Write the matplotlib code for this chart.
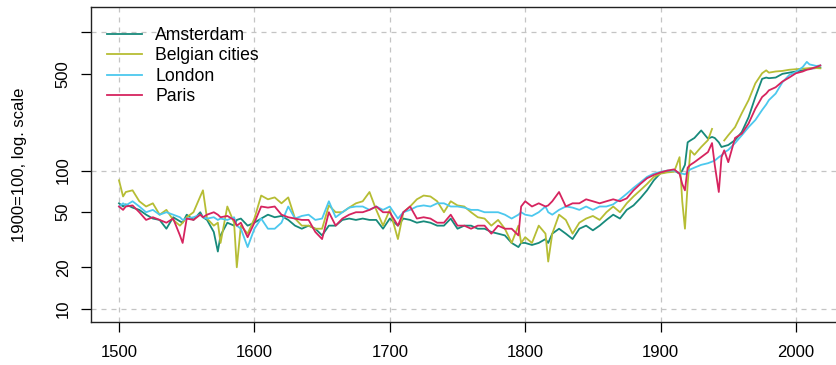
import numpy as np
import matplotlib
matplotlib.use("Agg")
import matplotlib.pyplot as plt

plt.rcParams['font.family'] = ['Liberation Sans', 'DejaVu Sans']

nan = np.nan

# years shared by all four series
years = [
    1500, 1503, 1505, 1510, 1515, 1520, 1525, 1530, 1535, 1540, 1545, 1547, 1550,
    1555, 1560, 1562, 1565, 1570, 1573, 1575, 1580, 1585, 1587, 1590, 1595,
    1600, 1605, 1610, 1615, 1620, 1625, 1630, 1635, 1640, 1645, 1650, 1655, 1660,
    1665, 1670, 1675, 1680, 1685, 1690, 1695,
    1700, 1706, 1710, 1715, 1720, 1725, 1730, 1735, 1740, 1745, 1750, 1755, 1760,
    1765, 1770, 1775, 1780, 1785, 1790, 1795, 1797,
    1800, 1805, 1810, 1815, 1817, 1820, 1825, 1830, 1835, 1840, 1845, 1850, 1855,
    1860, 1865, 1870, 1875, 1880, 1885, 1890, 1895,
    1900, 1905, 1910, 1914, 1916, 1918, 1920, 1922, 1925, 1930, 1935, 1938, 1940,
    1943, 1945, 1947, 1950, 1955, 1960, 1965, 1970, 1975, 1978, 1980, 1985, 1990,
    1995, 2000, 2005, 2008, 2010, 2015, 2018,
]

amsterdam = [
    58, 55, 57, 54, 52, 48, 45, 44, 38, 46, 43, 42, 48, 44, 50, 46, 44, 36, 26, 34, 42, 40, 44, 45, 40,
    42, 45, 48, 46, 47, 44, 40, 38, 40, 38, 34, 40, 40, 44, 45, 44, 45, 44, 44, 38,
    45, 40, 45, 44, 42, 43, 42, 40, 40, 45, 38, 40, 40, 38, 38, 36, 35, 34, 30, 28, 30,
    30, 29, 30, 32, 30, 35, 38, 35, 32, 38, 40, 37, 40, 44, 48, 45, 52, 56, 63, 72, 85,
    96, 98, 100, 95, 100, 110, 160, 165, 172, 195, 170, 175, 172, 160, 148, 150, 153,
    166, 190, 243, 340, 460, 470, 465, 470, 500, 510, 520, 530, 540, 545, 550, 555,
]

belgian = [
    85, 65, 70, 72, 60, 55, 58, 48, 52, 44, 40, 42, 46, 50, 65, 72, 45, 40, 42, 30, 55, 42, 20, 40, 35,
    45, 66, 62, 64, 58, 64, 45, 40, 40, 38, 38, 56, 50, 50, 54, 58, 60, 70, 52, 40,
    52, 32, 50, 55, 62, 66, 65, 60, 50, 60, 56, 55, 50, 46, 45, 40, 44, 38, 30, 40, 30,
    33, 30, 40, 35, 22, 35, 48, 44, 35, 42, 45, 47, 44, 50, 55, 50, 58, 65, 72, 80, 90,
    95, 97, 98, 125, 60, 38, 80, 140, 130, 148, 166, 200, nan, nan, nan, 165, 180,
    206, 260, 323, 427, 505, 530, 510, 520, 525, 535, 540, 545, 548, 550, 550, 548,
]

london = [
    55, 58, 56, 60, 55, 50, 52, 48, 50, 48, 46, 44, 45, 46, 48, 46, 45, 46, 44, 45, 44, 46, 40, 38, 28,
    38, 45, 38, 38, 42, 55, 45, 47, 48, 44, 45, 60, 46, 50, 54, 55, 55, 52, 55, 52,
    55, 45, 50, 52, 55, 56, 55, 58, 58, 55, 55, 54, 52, 52, 50, 50, 50, 48, 45, 48, 50,
    48, 47, 50, 55, 50, 48, 52, 55, 54, 52, 55, 52, 55, 55, 57, 62, 68, 75, 82, 90, 95,
    98, 100, 100, 96, 95, 94, 98, 102, 105, 110, 113, 116, 118, 125, 129, 135, 141,
    158, 180, 206, 232, 274, 300, 323, 360, 435, 490, 516, 560, 610, 585, 570, 575,
]

paris = [
    55, 52, 55, 56, 50, 44, 46, 44, 42, 45, 34, 30, 45, 44, 48, 46, 48, 50, 48, 46, 47, 44, 40, 42, 33,
    42, 55, 54, 55, 48, 46, 45, 44, 44, 36, 32, 50, 40, 45, 48, 50, 50, 52, 55, 50,
    50, 40, 50, 55, 45, 46, 45, 42, 42, 48, 40, 40, 38, 40, 40, 35, 40, 38, 38, 34, 55,
    60, 55, 58, 55, 56, 60, 70, 55, 58, 58, 62, 60, 58, 60, 62, 60, 63, 72, 80, 88, 93,
    97, 100, 102, 95, 80, 72, 105, 110, 115, 125, 136, 158, 110, 70, 125, 140, 115,
    172, 185, 219, 280, 340, 360, 380, 400, 440, 470, 505, 520, 535, 540, 560, 575,
]

series_names = ['Amsterdam', 'Belgian cities', 'London', 'Paris']
series_values = [amsterdam, belgian, london, paris]
colors = ['#178a7b', '#b6bd34', '#4cc8ee', '#d6245f']

y_ticks = [10, 20, 50, 100, 500, 1000]
y_tick_labels = ['10', '20', '50', '100', '500', '']
x_ticks = [1500, 1600, 1700, 1800, 1900, 2000]

fig = plt.figure(figsize=(8.37, 3.65), dpi=100)
ax = fig.add_axes([0.1087, 0.1178, 0.8913, 0.863])

for name, vals, col in zip(series_names, series_values, colors):
    ax.plot(years, vals, color=col, lw=1.3, label=name)

ax.set_yscale('log')
ax.set_xlim(1479.3, 2030.3)
ax.set_ylim(8.05, 1520)

ax.set_yticks(y_ticks)
ax.set_yticklabels(y_tick_labels)
ax.yaxis.set_minor_locator(matplotlib.ticker.NullLocator())
ax.set_xticks(x_ticks)
ax.set_xticklabels([str(x) for x in x_ticks])

for v in [10, 100, 1000]:
    ax.axhline(v, color='#c4c4c4', lw=0.9, ls=(0, (4, 4)), zorder=0)
for x in x_ticks:
    ax.axvline(x, color='#c4c4c4', lw=0.9, ls=(0, (4, 4)), zorder=0)

ax.tick_params(axis='both', labelsize=12, length=7.5, width=0.9, direction='out')
ax.tick_params(axis='y', pad=7)
ax.tick_params(axis='x', pad=9)
for lab in ax.get_yticklabels():
    lab.set_rotation(90)
    lab.set_va('center')

ax.spines['right'].set_visible(False)
for s in ['left', 'bottom', 'top']:
    ax.spines[s].set_linewidth(1.0)
    ax.spines[s].set_color('#222222')

ax.set_ylabel('1900=100, log. scale', fontsize=12, labelpad=21)

ax.legend(loc='upper left', bbox_to_anchor=(0.021, 0.937), frameon=False,
          fontsize=12.7, handlelength=2.0, handletextpad=0.75, labelspacing=0.2,
          borderpad=0, borderaxespad=0)

fig.savefig('out.png', dpi=100)
